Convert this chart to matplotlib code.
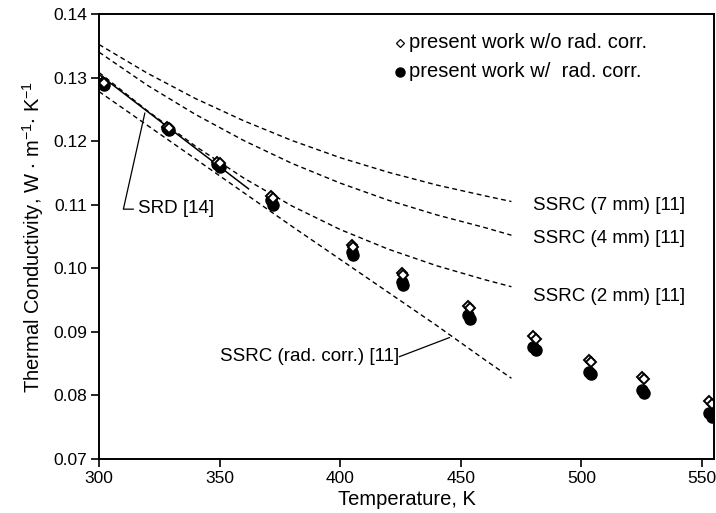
import matplotlib
matplotlib.use("Agg")
import matplotlib.pyplot as plt

plt.rcParams['font.family'] = ['Liberation Sans', 'DejaVu Sans']
plt.rcParams['mathtext.fontset'] = 'custom'
plt.rcParams['mathtext.rm'] = 'Liberation Sans'
plt.rcParams['mathtext.it'] = 'Liberation Sans:italic'
plt.rcParams['mathtext.default'] = 'regular'

# measured data (two repeated runs per temperature)
T_a = [301.5, 328, 349, 371.5, 405, 425.5, 453, 480, 503, 525, 553]
T_b = [302.0, 329, 350, 372.0, 405.5, 426.0, 454, 481, 504, 526, 554]
k_wo_a = [0.1293, 0.1222, 0.1167, 0.1113, 0.1036, 0.0993, 0.0940, 0.0893, 0.0856, 0.0829, 0.0791]
k_wo_b = [0.1291, 0.1220, 0.1165, 0.1110, 0.1033, 0.0990, 0.0937, 0.0889, 0.0853, 0.0826, 0.0786]
k_w_a = [0.1291, 0.1220, 0.1164, 0.1108, 0.1026, 0.0979, 0.0926, 0.0876, 0.0837, 0.0808, 0.0772]
k_w_b = [0.1288, 0.1217, 0.1160, 0.1100, 0.1021, 0.0974, 0.0921, 0.0871, 0.0833, 0.0804, 0.0766]

# reference curves (read every 20 K)
T_ssrc = [300, 320, 340, 360, 380, 400, 420, 440, 460, 471]
k_7mm = [0.1352, 0.1307, 0.1267, 0.1232, 0.1201, 0.1174, 0.1151, 0.1131, 0.1114, 0.1105]
k_4mm = [0.1340, 0.1288, 0.1242, 0.1201, 0.1165, 0.1134, 0.1107, 0.1084, 0.1064, 0.1052]
k_2mm = [0.1308, 0.1248, 0.1192, 0.1142, 0.1098, 0.1061, 0.1030, 0.1004, 0.0982, 0.0971]
k_rc = [0.1278, 0.1225, 0.1172, 0.1119, 0.1066, 0.1014, 0.0962, 0.0910, 0.0856, 0.0827]
T_srd = [300, 362]
k_srd = [0.1305, 0.1125]

xticks = [300, 350, 400, 450, 500, 550]
yticks = [0.07, 0.08, 0.09, 0.10, 0.11, 0.12, 0.13, 0.14]
yticklabels = ['0.07', '0.08', '0.09', '0.10', '0.11', '0.12', '0.13', '0.14']

fig = plt.figure(figsize=(7.16, 5.13), dpi=100)
ax = fig.add_axes([99/716, 1-459/513, (714-99)/716, (459-14)/513])

dash = (0, (3.5, 2.5))
for k in (k_7mm, k_4mm, k_2mm, k_rc):
    ax.plot(T_ssrc, k, color='black', lw=1.0, linestyle=dash)
ax.plot(T_srd, k_srd, color='black', lw=1.1)

for T, k in ((T_a, k_w_a), (T_b, k_w_b)):
    ax.plot(T, k, linestyle='none', marker='o', ms=8, mfc='black', mec='black')
for T, k in ((T_a, k_wo_a), (T_b, k_wo_b)):
    ax.plot(T, k, linestyle='none', marker='D', ms=5, mfc='white', mec='black', mew=1.4)

ax.set_xlim(300, 555)
ax.set_ylim(0.07, 0.14)
ax.set_xticks(xticks)
ax.set_yticks(yticks)
ax.set_yticklabels(yticklabels)
ax.tick_params(direction='out', length=6, width=1.2, labelsize=12.5, pad=2.5,
               top=False, right=False)
for s in ax.spines.values():
    s.set_linewidth(1.4)

ax.set_xlabel('Temperature, K', fontsize=14.5, labelpad=3)
ax.set_ylabel(r'Thermal Conductivity, W $\cdot$ m$^{-1}$$\cdot$ K$^{-1}$', fontsize=14.5, labelpad=5)

fs = 13.5
ax.text(480, 0.1098, 'SSRC (7 mm) [11]', fontsize=fs, va='center', ha='left')
ax.text(480, 0.1047, 'SSRC (4 mm) [11]', fontsize=fs, va='center', ha='left')
ax.text(480, 0.0955, 'SSRC (2 mm) [11]', fontsize=fs, va='center', ha='left')
ax.text(350, 0.0861, 'SSRC (rad. corr.) [11]', fontsize=fs, va='center', ha='left')
ax.plot([424.6, 445.3], [0.0861, 0.0891], color='black', lw=0.9)
ax.text(316, 0.1094, 'SRD [14]', fontsize=fs, va='center', ha='left')
ax.plot([319.0, 310.1, 314.2], [0.1244, 0.1093, 0.1093], color='black', lw=0.9)

# legend
ax.plot([424.6], [0.1355], linestyle='none', marker='D', ms=4.5, mfc='white', mec='black', mew=0.9)
ax.plot([424.6], [0.1309], linestyle='none', marker='o', ms=6.5, mfc='black', mec='black')
ax.text(428.7, 0.1355, 'present work w/o rad. corr.', fontsize=14.5, va='center', ha='left')
ax.text(428.7, 0.1309, 'present work w/  rad. corr.', fontsize=14.5, va='center', ha='left')

fig.savefig('out.png', dpi=100)
